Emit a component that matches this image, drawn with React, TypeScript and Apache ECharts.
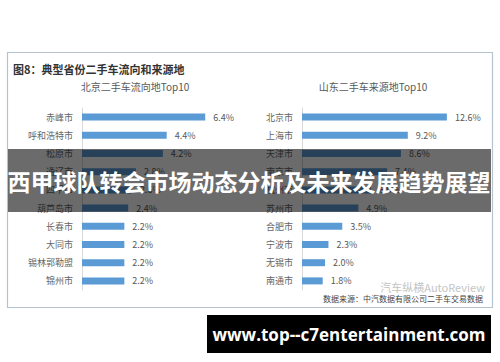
import React, { useEffect, useRef } from "react";
import * as echarts from "echarts";

const leftCategories = ["赤峰市", "呼和浩特市", "松原市", "通辽市", "四平市", "葫芦岛市", "长春市", "大同市", "锡林郭勒盟", "锦州市"];
const leftValues = [6.4, 4.4, 4.2, 2.8, 2.6, 2.4, 2.2, 2.2, 2.2, 2.2];
const rightCategories = ["北京市", "上海市", "天津市", "南京市", "杭州市", "苏州市", "合肥市", "宁波市", "无锡市", "南通市"];
const rightValues = [12.6, 9.2, 8.6, 7.4, 6.0, 4.9, 3.5, 2.3, 2.0, 1.8];

const mainTitle = "图8：典型省份二手车流向和来源地";
const leftTitle = "北京二手车流向地Top10";
const rightTitle = "山东二手车来源地Top10";
const bannerText = "西甲球队转会市场动态分析及未来发展趋势展望";
const urlText = "www.top--c7entertainment.com";
const sourceText = "数据来源：中汽数据有限公司二手车交易数据";
const watermarkText = "汽车纵横AutoReview";

const FONT = "'Noto Sans CJK SC', 'Noto Sans', sans-serif";

export default function App() {
  const ref = useRef<HTMLDivElement>(null);
  useEffect(() => {
    if (!ref.current) return;
    const chart = echarts.init(ref.current, null, { renderer: "svg" });
    const barColor = "#5b9bd5";
    const label = {
      show: true,
      position: "right" as const,
      distance: 8,
      fontSize: 9,
      color: "#595959",
      fontFamily: FONT,
      formatter: (p: any) => Number(p.value).toFixed(1) + "%",
    };
    const yAxisCommon = {
      type: "category" as const,
      inverse: true,
      axisLine: { show: true, lineStyle: { color: "#d9d9d9", width: 1 } },
      axisTick: { show: false },
      axisLabel: { fontSize: 9, color: "#666", fontFamily: FONT, margin: 9 },
    };
    const xAxisCommon = {
      type: "value" as const,
      min: 0,
      show: false,
      splitLine: { show: false },
    };
    chart.setOption({
      animation: false,
      backgroundColor: "#fff",
      grid: [
        { left: 82, top: 108, width: 154, height: 182 },
        { left: 302, top: 108, width: 161, height: 182 },
      ],
      xAxis: [
        { ...xAxisCommon, gridIndex: 0, max: 8 },
        { ...xAxisCommon, gridIndex: 1, max: 14 },
      ],
      yAxis: [
        { ...yAxisCommon, gridIndex: 0, data: leftCategories },
        { ...yAxisCommon, gridIndex: 1, data: rightCategories },
      ],
      series: [
        {
          type: "bar",
          xAxisIndex: 0,
          yAxisIndex: 0,
          data: leftValues,
          barWidth: 7,
          itemStyle: { color: barColor },
          label,
        },
        {
          type: "bar",
          xAxisIndex: 1,
          yAxisIndex: 1,
          data: rightValues,
          barWidth: 7,
          itemStyle: { color: barColor },
          label,
        },
      ],
      graphic: [
        {
          type: "rect",
          shape: { x: 7.5, y: 52.5, width: 485, height: 255 },
          style: { fill: "none", stroke: "#b4c3cf", lineWidth: 1.2 },
          z: 1,
        },
        {
          type: "text",
          x: 13,
          y: 63,
          style: { text: mainTitle, fontSize: 11, fontWeight: "bold", fill: "#333", fontFamily: FONT },
        },
        {
          type: "text",
          x: 135,
          y: 81,
          style: { text: leftTitle, fontSize: 10, fill: "#595959", fontFamily: FONT, align: "center" },
        },
        {
          type: "text",
          x: 373,
          y: 81,
          style: { text: rightTitle, fontSize: 10, fill: "#595959", fontFamily: FONT, align: "center" },
        },
        {
          type: "text",
          x: 485,
          y: 281,
          style: { text: watermarkText, fontSize: 11, fill: "#c4c4c4", fontFamily: FONT, align: "right" },
          z: 5,
        },
        {
          type: "text",
          x: 483,
          y: 294,
          style: { text: sourceText, fontSize: 8, fill: "#444", fontFamily: "'Noto Sans CJK SC', serif", align: "right" },
          z: 5,
        },
        {
          type: "rect",
          shape: { x: 8, y: 149, width: 483, height: 63 },
          style: { fill: "rgba(0,0,0,0.58)" },
          z: 100,
        },
        {
          type: "text",
          x: 249,
          y: 181,
          style: {
            text: bannerText,
            fontSize: 23,
            fontWeight: "bold",
            fill: "#fff",
            fontFamily: FONT,
            align: "center",
            verticalAlign: "middle",
          },
          z: 101,
        },
        {
          type: "rect",
          shape: { x: 207, y: 315, width: 284, height: 38 },
          style: { fill: "#000" },
          z: 100,
        },
        {
          type: "text",
          x: 349,
          y: 334,
          style: {
            text: urlText,
            fontSize: 17,
            fontWeight: "bold",
            fill: "#fff",
            fontFamily: "'Open Sans', 'DejaVu Sans', sans-serif",
            align: "center",
            verticalAlign: "middle",
          },
          z: 101,
        },
      ],
    });
    return () => chart.dispose();
  }, []);
  return (
    <div style={{ position: "absolute", left: 0, top: 0 }}>
      <div ref={ref} style={{ width: 500, height: 362 }} />
    </div>
  );
}
